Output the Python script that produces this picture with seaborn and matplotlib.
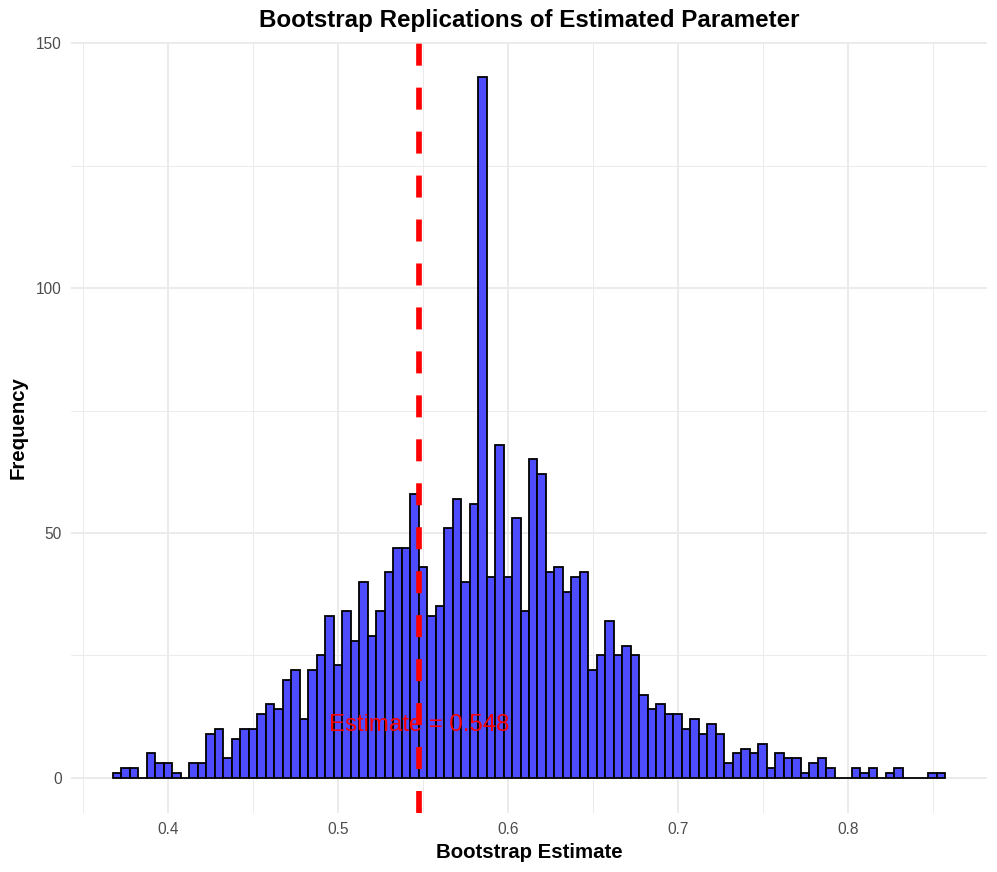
import numpy as np
import pandas as pd
import matplotlib
matplotlib.use("Agg")
import matplotlib.pyplot as plt
import seaborn as sns

# histogram bins of the original chart (binwidth 0.005)
bin_edges = np.linspace(0.3675, 0.8575, 99)
bin_mids = (bin_edges[:-1] + bin_edges[1:]) / 2

# counts per bin (2000 replications in total)
counts = [
    1, 2, 2, 0, 5, 3, 3, 1, 0, 3, 3, 9, 10, 4, 8, 10, 10, 13, 15, 14, 20, 22,
    12, 22, 25, 33, 23, 34, 28, 40, 29, 34, 42, 47, 47, 58, 43, 33, 35,
    51, 57, 40, 56, 143, 41, 68, 41, 53, 34, 65, 62, 42, 43,
    38, 41, 42, 22, 25, 32, 25, 27, 25, 17, 14, 15, 13, 13, 10, 12,
    9, 11, 9, 3, 5, 6, 5, 7, 2, 5, 4, 4, 1, 3, 4, 2,
    0, 0, 2, 1, 2, 0, 1, 2, 0, 0, 0, 1, 1,
]
estimate = 0.548

x_major = [0.4, 0.5, 0.6, 0.7, 0.8]
x_minor = [0.35, 0.45, 0.55, 0.65, 0.75, 0.85]
y_major = [0, 50, 100, 150]
y_minor = [25, 75, 125]

df = pd.DataFrame({"estimate": bin_mids, "n": counts})

sns.set_style("white")
plt.rcParams["font.family"] = ["Liberation Sans", "DejaVu Sans"]
plt.rcParams["text.color"] = "black"
plt.rcParams["axes.labelcolor"] = "black"

W, H = 997, 872
fig = plt.figure(figsize=(W / 100, H / 100), dpi=100)
ax = fig.add_axes([71 / W, (H - 813) / H, 916 / W, 770.7 / H])

sns.histplot(data=df, x="estimate", weights="n", bins=list(bin_edges),
             color="#4D4DFF", alpha=1, edgecolor="black", linewidth=1.3, ax=ax)

ax.axvline(estimate, color="red", lw=4.1, linestyle=(0, (3.86, 3.86)))
ax.text(estimate, 9.65, f"Estimate = {estimate}", color="red", fontsize=17.3,
        ha="center", va="baseline")

ax.set_xlim(0.343, 0.882)
ax.set_ylim(-7.15, 150.15)
ax.set_xticks(x_major)
ax.set_xticks(x_minor, minor=True)
ax.set_yticks(y_major)
ax.set_yticks(y_minor, minor=True)
ax.set_xticklabels([f"{v:.1f}" for v in x_major])
ax.grid(which="major", color="#EBEBEB", lw=1.4)
ax.grid(which="minor", color="#EBEBEB", lw=0.7)
ax.set_axisbelow(True)
for s in ax.spines.values():
    s.set_visible(False)
ax.tick_params(which="both", length=0, labelcolor="#4D4D4D", labelsize=11.2, pad=6.5)

ax.set_xlabel("Bootstrap Estimate", fontsize=14.7, fontweight="bold", color="black")
ax.xaxis.set_label_coords(0.5, -(858 - 813) / 770.7)
ax.xaxis.label.set_va("baseline")
ax.set_ylabel("Frequency", fontsize=14.7, fontweight="bold", color="black")
ax.yaxis.set_label_coords((18 - 71) / 916, 0.5)
ax.yaxis.label.set_va("center")

fig.text(529 / W, 1 - 27 / H, "Bootstrap Replications of Estimated Parameter",
         fontsize=17.4, fontweight="bold", ha="center", va="baseline", color="black")

fig.savefig("out.png", dpi=100)
